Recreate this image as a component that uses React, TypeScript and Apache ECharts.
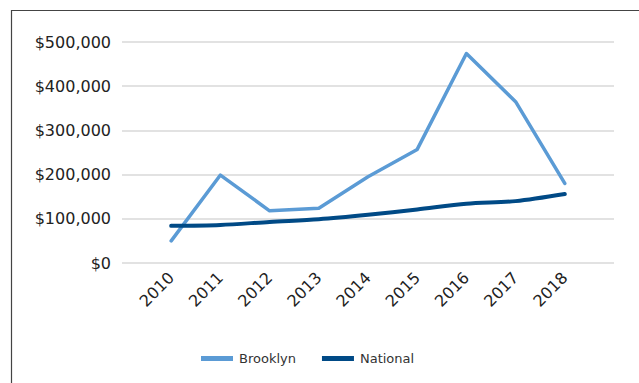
import React, { useEffect, useRef } from "react";
import * as echarts from "echarts";

const years = [2010, 2011, 2012, 2013, 2014, 2015, 2016, 2017, 2018];
const brooklyn = [50000, 199000, 118000, 124000, 195000, 257000, 474000, 365000, 180000];
const national = [84000, 86000, 93000, 99000, 109000, 121000, 134000, 140000, 156000];
const yTicks = [0, 100000, 200000, 300000, 400000, 500000];

const FONT = "DejaVu Sans";

export default function App() {
  const ref = useRef<HTMLDivElement>(null);
  useEffect(() => {
    if (!ref.current) return;
    const chart = echarts.init(ref.current, undefined, { renderer: "svg" });
    chart.setOption({
      animation: false,
      backgroundColor: "#ffffff",
      graphic: [
        {
          type: "rect",
          shape: { x: 11.5, y: 10.5, width: 700, height: 500 },
          style: { fill: "none", stroke: "#444444", lineWidth: 1.2 },
          silent: true,
        },
      ],
      grid: { left: 122, right: 25, top: 42, bottom: 120, containLabel: false },
      legend: {
        bottom: 13,
        left: 196,
        itemWidth: 32,
        itemHeight: 5,
        itemGap: 26,
        icon: "rect",
        textStyle: { fontFamily: FONT, fontSize: 13, color: "#333333", padding: [0, 0, 0, 1] },
        data: ["Brooklyn", "National"],
      },
      xAxis: {
        type: "value",
        min: 2009,
        max: 2019,
        interval: 1,
        splitLine: { show: false },
        axisLine: { show: false },
        axisTick: { show: false },
        axisLabel: {
          rotate: 45,
          margin: 12,
          fontFamily: FONT,
          fontSize: 16,
          color: "#222222",
          showMinLabel: false,
          showMaxLabel: false,
          formatter: (v: number) => (years.indexOf(v) >= 0 ? String(v) : ""),
        },
      },
      yAxis: {
        type: "value",
        min: yTicks[0],
        max: yTicks[yTicks.length - 1],
        interval: 100000,
        axisLine: { show: false },
        axisTick: { show: false },
        splitLine: { lineStyle: { color: "#D9D9D9", width: 1.5 } },
        axisLabel: {
          margin: 11,
          fontFamily: FONT,
          fontSize: 16,
          color: "#222222",
          formatter: (v: number) => "$" + v.toLocaleString("en-US"),
        },
      },
      series: [
        {
          name: "Brooklyn",
          type: "line",
          data: years.map((y, i) => [y, brooklyn[i]]),
          showSymbol: false,
          symbol: "none",
          lineStyle: { color: "#5B9BD5", width: 3.5, cap: "round", join: "round" },
          itemStyle: { color: "#5B9BD5" },
          z: 2,
        },
        {
          name: "National",
          type: "line",
          data: years.map((y, i) => [y, national[i]]),
          showSymbol: false,
          symbol: "none",
          smooth: 0.3,
          lineStyle: { color: "#004A86", width: 4, cap: "round", join: "round" },
          itemStyle: { color: "#004A86" },
          z: 3,
        },
      ],
    });
    return () => chart.dispose();
  }, []);
  return (
    <div
      ref={ref}
      style={{ position: "fixed", left: 0, top: 0, width: 639, height: 383 }}
    />
  );
}
